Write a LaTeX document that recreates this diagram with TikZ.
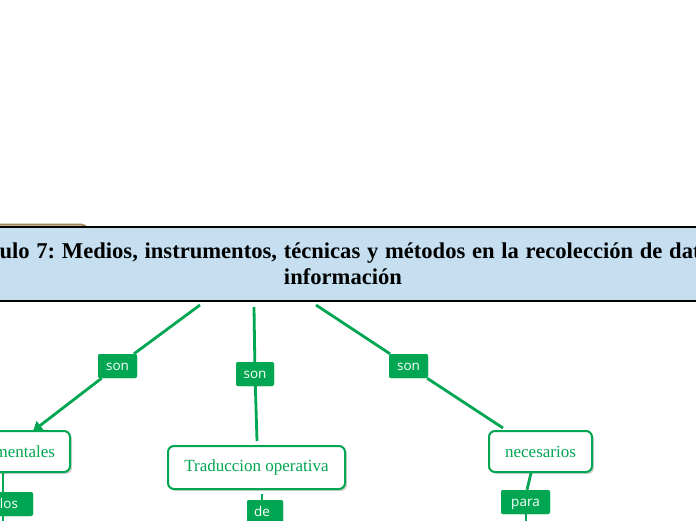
\documentclass[tikz,border=0pt]{standalone}
\usepackage{fontspec}
\setmainfont{Liberation Serif}
\newfontfamily\labfont{Open Sans}
\usetikzlibrary{arrows.meta,shadows}
\definecolor{gr}{HTML}{00A651}
\definecolor{titlefill}{HTML}{C5DFF0}
\definecolor{tan}{HTML}{A08858}
\frenchspacing
\newcommand{\titlefontx}{\bfseries\fontsize{22.6}{26}\selectfont\spaceskip=6.7pt\relax}
\tikzset{
  x=1pt,y=1pt,
  conceptbox/.style={draw=gr, line width=2pt, fill=white, rounded corners=6pt,
     text=gr, font=\fontsize{17}{20}\selectfont, inner sep=0pt,
     drop shadow={shadow xshift=2pt, shadow yshift=-2pt, opacity=0.35}},
  linklabel/.style={fill=gr, rounded corners=2pt, text=white,
     font=\labfont\fontsize{13.5}{15}\selectfont, inner sep=0pt,
     text height=8pt, text depth=0pt, minimum height=24pt},
  conn/.style={draw=gr, line width=2.8pt},
}
\begin{document}
\begin{tikzpicture}
\useasboundingbox (0,0) rectangle (696,-520);
\clip (0,0) rectangle (696,-520);
% tan shape behind title
\draw[tan, line width=2pt, rounded corners=5pt] (-50,-240) -- (-50,-224.5) -- (86,-224.5) -- (92,-240);
% title band
\fill[titlefill] (-200,-227) rectangle (900,-301);
\draw[black, line width=2pt] (-200,-227) -- (900,-227);
\draw[black, line width=2pt] (-200,-301) -- (900,-301);
\node[font=\titlefontx, align=center, inner sep=0pt] (title) at (343,-264)
  {\hspace*{-3pt}Capítulo 7: Medios, instrumentos, técnicas y métodos en la recolección de datos e\\ información};
% anchor points on title
\coordinate (t1) at (200,-305);
\coordinate (t2) at (254,-307);
\coordinate (t3) at (316,-305);
% concept nodes
\node[conceptbox, minimum width=130pt, minimum height=41pt, text width=100pt, align=right] (m) at (5,-451.5) {mentales};
\node[conceptbox, minimum width=177pt, minimum height=43pt] (tr) at (256.5,-467.5) {Traduccion operativa};
\node[conceptbox, minimum width=103pt, minimum height=41pt] (ne) at (540.5,-451.5) {necesarios};
% labels
\node[linklabel, minimum width=39pt] (son1) at (117.5,-366) {son};
\node[linklabel, minimum width=38pt] (son2) at (255,-374) {son};
\node[linklabel, minimum width=39pt] (son3) at (408.5,-366) {son};
\node[linklabel, minimum width=49pt] (para) at (525.5,-502) {para};
\node[linklabel, minimum width=36pt, text width=22pt, align=left] (de) at (265,-512) {de};
\node[linklabel, minimum width=60pt, text width=30pt, align=right] (los) at (3,-504) {los};
% end coordinates
\coordinate (a1) at (33,-431);
\coordinate (a2) at (257,-441);
\coordinate (a3) at (503,-428);
\coordinate (b1) at (3,-530);
\coordinate (b3) at (526,-530);
% connectors
\draw[conn] (t1) -- (son1);
\draw[conn, -{Triangle[length=9pt,width=11pt]}] (son1) -- (a1);
\draw[conn] (t2) -- (son2);
\draw[conn] (son2) -- (a2);
\draw[conn] (t3) -- (son3);
\draw[conn] (son3) -- (a3);
\draw[conn] (m.south -| 3,0) -- (los.north -| 3,0);
\draw[conn] (los.south -| 3,0) -- (b1);
\draw[conn, line width=2pt] (262,-494) -- (de.north -| 262,0);
\draw[conn] (531,-473) -- (para.north -| 527,0);
\draw[conn] (para.south -| 526,0) -- (b3);
% redraw labels over lines
\node[linklabel, minimum width=39pt] at (son1) {son};
\node[linklabel, minimum width=38pt] at (son2) {son};
\node[linklabel, minimum width=39pt] at (son3) {son};
\node[linklabel, minimum width=49pt] at (para) {para};
\node[linklabel, minimum width=36pt, text width=22pt, align=left] at (de) {de};
\node[linklabel, minimum width=60pt, text width=30pt, align=right] at (los) {los};
\end{tikzpicture}
\end{document}
